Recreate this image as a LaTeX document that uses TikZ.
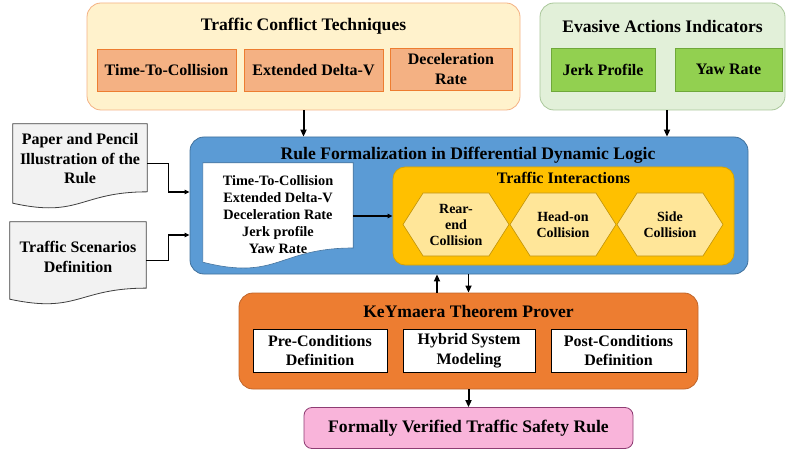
\documentclass[tikz,border=0pt]{standalone}
\usepackage{fontspec}
\setmainfont{Liberation Serif}
\usepackage{tikz}
\usetikzlibrary{arrows.meta,calc,shapes.symbols}
\definecolor{tctfill}{HTML}{FFF2CC}
\definecolor{tctline}{HTML}{F4B183}
\definecolor{tcinner}{HTML}{F4B183}
\definecolor{tcinline}{HTML}{ED7D31}
\definecolor{eaifill}{HTML}{E2F0D9}
\definecolor{eailine}{HTML}{A9C79A}
\definecolor{eainner}{HTML}{92D050}
\definecolor{eainline}{HTML}{6FA83A}
\definecolor{rflfill}{HTML}{5B9BD5}
\definecolor{rflline}{HTML}{41719C}
\definecolor{tifill}{HTML}{FFC000}
\definecolor{tiline}{HTML}{D9A300}
\definecolor{hexfill}{HTML}{FFE699}
\definecolor{hexline}{HTML}{BF9000}
\definecolor{keyfill}{HTML}{ED7D31}
\definecolor{keyline}{HTML}{C0652A}
\definecolor{fvrfill}{HTML}{F9B4DA}
\definecolor{fvrline}{HTML}{8E3C73}
\definecolor{docfill}{HTML}{F2F2F2}
% wavy bottom of a document node
\newcommand{\docshape}[2][]{%
  \draw[#1] let \p1=(#2.north west), \p2=(#2.south east) in
    (\p1) -- (\x2,\y1) -- (\x2,{\y2+0.143*(\y1-\y2)})
    .. controls ({(\x1+\x2)/2},{\y2+0.143*(\y1-\y2)})
            and ({(\x1+\x2)/2},{\y2-0.19*(\y1-\y2)}) .. (\x1,\y2) -- cycle;}

\begin{document}
\begin{tikzpicture}[x=1pt, y=-1pt,
  every node/.style={font=\bfseries\fontsize{16}{19.5}\selectfont, align=center},
  group/.style={draw, rounded corners=14pt, line width=0.8pt},
  ttl/.style={font=\bfseries\fontsize{17.6}{20}\selectfont},
  item/.style={draw, line width=0.8pt, inner sep=1pt},
  hexa/.style={signal, signal to=west and east, signal pointer angle=115,
               draw=hexline, fill=hexfill, line width=0.6pt,
               minimum width=106pt, minimum height=63pt, inner sep=0pt,
               font=\bfseries\fontsize{14}{16}\selectfont},
  arr/.style={-{Triangle[length=7pt,width=6pt]}, line width=2pt},
  arrthin/.style={-{Triangle[length=5pt,width=4.5pt]}, line width=1.2pt}]
\useasboundingbox (0,0) rectangle (787,449);
% top groups
\node[group, draw=tctline, fill=tctfill, minimum width=433pt, minimum height=107pt]
  (tct) at (303.5,56.5) {};
\node[ttl] (tcttl) at (303.5,26) {Traffic Conflict Techniques};
\node[item, draw=tcinline, fill=tcinner, minimum width=139pt, minimum height=42pt]
  (ttc) at (166.5,70) {Time-To-Collision};
\node[item, draw=tcinline, fill=tcinner, minimum width=139pt, minimum height=42pt]
  (edv) at (313.5,70) {Extended Delta-V};
\node[item, draw=tcinline, fill=tcinner, minimum width=122pt, minimum height=42pt]
  (dr) at (451,69) {Deceleration\\Rate};
\node[group, draw=eailine, fill=eaifill, minimum width=245pt, minimum height=107pt]
  (eai) at (662.5,56.5) {};
\node[ttl] (eaittl) at (662.5,26) {Evasive Actions Indicators};
\node[item, draw=eainline, fill=eainner, minimum width=104pt, minimum height=43pt]
  (jp) at (603,69.5) {Jerk Profile};
\node[item, draw=eainline, fill=eainner, minimum width=107pt, minimum height=43pt]
  (yr) at (728.5,69.5) {Yaw Rate};
% rule formalization
\node[group, draw=rflline, fill=rflfill, minimum width=558pt, minimum height=137pt]
  (rfl) at (469,205.5) {};
\node[ttl] (rflttl) at (468,155) {Rule Formalization in Differential Dynamic Logic};
\node[minimum width=150pt, minimum height=99pt, inner sep=0pt] (wdoc) at (278,212.5) {};
\docshape[draw=rflline, fill=white, line width=0.6pt]{wdoc}
\node[font=\bfseries\fontsize{14.3}{17}\selectfont] (wdtxt) at (278,215)
  {Time-To-Collision\\Extended Delta-V\\Deceleration Rate\\Jerk profile\\Yaw Rate};
\node[group, rounded corners=12pt, draw=tiline, fill=tifill,
      minimum width=341pt, minimum height=98pt] (ti) at (563.5,216) {};
\node[font=\bfseries\fontsize{16}{19}\selectfont] (tittl) at (563.5,178) {Traffic Interactions};
\node[hexa] (rear) at (456,224.5) {Rear-\\end\\Collision};
\node[hexa] (head) at (563,224.5) {Head-on\\Collision};
\node[hexa] (side) at (670,224.5) {Side\\Collision};
% input documents
\node[minimum width=134pt, minimum height=79pt, inner sep=0pt] (pp) at (80,163.5) {};
\docshape[draw=black!75, fill=docfill, line width=0.8pt]{pp}
\node (pptxt) at (80,159) {Paper and Pencil\\Illustration of the\\Rule};
\node[minimum width=136pt, minimum height=77pt, inner sep=0pt] (ts) at (78,260.5) {};
\docshape[draw=black!75, fill=docfill, line width=0.8pt]{ts}
\node (tstxt) at (78,257) {Traffic Scenarios\\Definition};
% prover
\node[group, draw=keyline, fill=keyfill, minimum width=459pt, minimum height=96pt]
  (key) at (468.5,341) {};
\node[ttl] (keyttl) at (468.5,311) {KeYmaera Theorem Prover};
\node[item, fill=white, minimum width=134pt, minimum height=43pt]
  (pre) at (320,350.5) {Pre-Conditions\\Definition};
\node[item, fill=white, minimum width=132pt, minimum height=43pt]
  (hsm) at (469,350.5) {Hybrid System\\Modeling};
\node[item, fill=white, minimum width=135pt, minimum height=43pt]
  (post) at (618.5,350.5) {Post-Conditions\\Definition};
\node[group, rounded corners=8pt, draw=fvrline, fill=fvrfill,
      minimum width=329pt, minimum height=41pt, ttl] (fvr) at (468.5,428)
  {Formally Verified Traffic Safety Rule};
% connectors
\draw[arr] (tct.south) -- (tct.south |- rfl.north);
\draw[arr] ([xshift=4.5pt]eai.south) -- ([xshift=4.5pt]eai.south |- rfl.north);
\draw[arrthin] (pp.east) -- ++(21,0) |- ([yshift=13.5pt]rfl.west);
\draw[arrthin] (ts.east) -- ++(22,0) |- ([yshift=-29.5pt]rfl.west);
\draw[arrthin] (wdoc.east |- ti.west) -- (ti.west);
\draw[arr, line width=1.6pt] ([xshift=-31.5pt]key.north) -- ([xshift=-31.5pt]key.north |- rfl.south);
\draw[arr, line width=1.6pt] (key.north |- rfl.south) -- (key.north);
\draw[arr] (key.south) -- (fvr.north);
\end{tikzpicture}
\end{document}
